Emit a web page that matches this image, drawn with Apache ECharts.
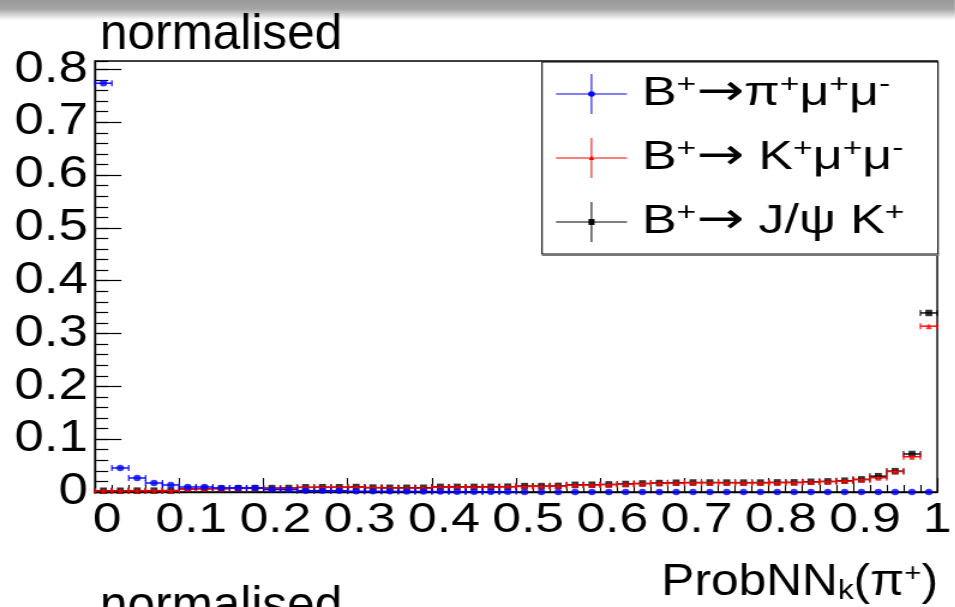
<!DOCTYPE html>
<html>
<head>
<meta charset="utf-8">
<script src="https://cdn.jsdelivr.net/npm/echarts@6/dist/echarts.min.js"></script>
<style>
  html, body { margin: 0; padding: 0; background: #fff; overflow: hidden; width: 955px; height: 607px; }
  /* the figure is laid out narrower and widened horizontally as a whole */
  #chart { width: 795.83px; height: 607px; transform: scaleX(1.2); transform-origin: 0 0; }
</style>
</head>
<body>
<div id="chart"></div>
<script>
// ProbNN_k(pi+) distributions, 50 bins of width 0.02, each normalised to unit area
const binCenters = [
  0.01, 0.03, 0.05, 0.07, 0.09, 0.11, 0.13, 0.15, 0.17, 0.19,
  0.21, 0.23, 0.25, 0.27, 0.29, 0.31, 0.33, 0.35, 0.37, 0.39,
  0.41, 0.43, 0.45, 0.47, 0.49, 0.51, 0.53, 0.55, 0.57, 0.59,
  0.61, 0.63, 0.65, 0.67, 0.69, 0.71, 0.73, 0.75, 0.77, 0.79,
  0.81, 0.83, 0.85, 0.87, 0.89, 0.91, 0.93, 0.95, 0.97, 0.99
];
const binHalfWidth = 0.01;

// B+ -> pi+ mu+ mu-
const piMuMu = [
  0.774, 0.0455, 0.0265, 0.017, 0.0133, 0.0095, 0.0095, 0.0078, 0.0076, 0.0076,
  0.0046, 0.0044, 0.0026, 0.0025, 0.0024, 0.0014, 0.0013, 0.0012, 0.0011, 0.0010,
  0.0008, 0.0007, 0.0007, 0.0006, 0.0006, 0, 0, 0, 0, 0,
  0, 0, 0, 0, 0, 0, 0, 0, 0, 0,
  0, 0, 0, 0, 0, 0, 0, 0, 0, 0
];

// B+ -> K+ mu+ mu-
const kMuMu = [
  0.0020, 0.0020, 0.0022, 0.0022, 0.0024, 0.0055, 0.0060, 0.0062, 0.0068, 0.0070,
  0.0070, 0.0072, 0.0086, 0.0088, 0.0088, 0.0090, 0.0080, 0.0076, 0.0074, 0.0074,
  0.0092, 0.0093, 0.0093, 0.0094, 0.0098, 0.0105, 0.0106, 0.0112, 0.0130, 0.0133,
  0.0139, 0.0148, 0.0158, 0.0165, 0.0170, 0.0175, 0.0176, 0.0174, 0.0173, 0.0174,
  0.0177, 0.0178, 0.0189, 0.0196, 0.0208, 0.0233, 0.0270, 0.0388, 0.0667, 0.314
];

// B+ -> J/psi K+
const jpsiK = [
  0.0024, 0.0024, 0.0026, 0.0026, 0.0028, 0.0058, 0.0063, 0.0066, 0.0072, 0.0074,
  0.0074, 0.0076, 0.0089, 0.0091, 0.0091, 0.0094, 0.0084, 0.0080, 0.0080, 0.0080,
  0.0097, 0.0097, 0.0097, 0.0098, 0.0101, 0.0112, 0.0112, 0.0116, 0.0136, 0.0138,
  0.0144, 0.0152, 0.0162, 0.0170, 0.0176, 0.0180, 0.0180, 0.0179, 0.0178, 0.0179,
  0.0182, 0.0183, 0.0194, 0.0201, 0.0214, 0.0240, 0.0300, 0.0395, 0.0720, 0.339
];

const xTickLabels = ['0', '0.1', '0.2', '0.3', '0.4', '0.5', '0.6', '0.7', '0.8', '0.9', '1'];
const yTickLabels = ['0', '0.1', '0.2', '0.3', '0.4', '0.5', '0.6', '0.7', '0.8'];

const S = 1.2;                       // horizontal widening of the whole figure
const X = v => v / S;                // page x -> layout x
const FONT = '"Liberation Sans", Arial, Helvetica, sans-serif';
const ARROW_FONT = '"DejaVu Sans", sans-serif';
const BLUE = '#0000ff', RED = '#ff0000', BLACK = '#000000';

function points(values) {
  return binCenters.map((c, i) => [c, values[i]]);
}

// Horizontal bin-width bar with end caps, drawn at each bin's value
function errorBars(color) {
  return function (params, api) {
    const x = api.value(0), y = api.value(1);
    if (!(y > 0)) return null;
    const a = api.coord([x - binHalfWidth, y]);
    const b = api.coord([x + binHalfWidth, y]);
    const cap = 3;
    const capStyle = { stroke: color, lineWidth: 1.1 };
    return {
      type: 'group',
      children: [
        { type: 'line', shape: { x1: a[0], y1: a[1], x2: b[0], y2: b[1] }, style: { stroke: color, lineWidth: 1.4 } },
        { type: 'line', shape: { x1: a[0], y1: a[1] - cap, x2: a[0], y2: a[1] + cap }, style: capStyle },
        { type: 'line', shape: { x1: b[0], y1: b[1] - cap, x2: b[0], y2: b[1] + cap }, style: capStyle }
      ]
    };
  };
}

function tickIndex(v) {
  const i = Math.round(v * 10);
  return Math.abs(v * 10 - i) < 1e-6 ? i : -1;
}

const legendRich = {
  b: { fontSize: 40, fontFamily: FONT, color: '#000' },
  a: { fontSize: 44, fontFamily: ARROW_FONT, color: '#000' },
  s: { fontSize: 26, fontFamily: FONT, color: '#000', verticalAlign: 'top' }
};

function legendEntry(y, color, symbol, text) {
  return [
    { type: 'line', shape: { x1: X(556), y1: y, x2: X(627), y2: y }, style: { stroke: color, lineWidth: 1.2 } },
    { type: 'line', shape: { x1: X(591.5), y1: y - 20, x2: X(591.5), y2: y + 20 }, style: { stroke: color, lineWidth: 1 } },
    symbol,
    {
      type: 'text', x: X(642), y: y, scaleX: 1.08,
      style: { text: text, rich: legendRich, verticalAlign: 'middle', align: 'left' }
    }
  ];
}

const chart = echarts.init(document.getElementById('chart'), null, { renderer: 'canvas' });

chart.setOption({
  backgroundColor: '#fff',
  animation: false,
  grid: {
    left: X(95), right: X(955) - X(939), top: 61, bottom: 115,
    show: true, borderColor: '#000', borderWidth: 1.4, backgroundColor: 'transparent'
  },
  xAxis: [{
    type: 'value', min: 0, max: 1, interval: 0.1,
    axisLine: { onZero: false, lineStyle: { color: '#000', width: 1.4 } },
    axisTick: { inside: true, length: 14, lineStyle: { color: '#000', width: 1.1 } },
    minorTick: { show: true, splitNumber: 5, length: 7, lineStyle: { color: '#000', width: 1.1 } },
    splitLine: { show: false },
    axisLabel: {
      margin: 7,
      formatter: function (v) {
        const i = tickIndex(v);
        if (i < 0) return '';
        return i === 10 ? '{e|' + xTickLabels[i] + '}' : '{m|' + xTickLabels[i] + '}';
      },
      rich: {
        m: { fontSize: 43, fontFamily: FONT, color: '#000', padding: [0, 0, 0, 20] },
        e: { fontSize: 43, fontFamily: FONT, color: '#000' }
      }
    }
  }],
  yAxis: [{
    type: 'value', min: 0, max: 0.816, interval: 0.1, position: 'left',
    axisLine: { show: true, lineStyle: { color: '#000', width: 1.4 } },
    axisTick: { inside: true, length: 22, lineStyle: { color: '#000', width: 1.2 } },
    splitLine: { show: false },
    axisLabel: {
      fontSize: 44, fontFamily: FONT, color: '#000', margin: 6,
      showMaxLabel: false,
      formatter: function (v) { const i = tickIndex(v); return i < 0 ? '' : yTickLabels[i]; }
    }
  }, {
    // finer 0.02 subdivisions on the same scale
    type: 'value', min: 0, max: 0.816, interval: 0.02, position: 'left', offset: 0,
    axisLine: { show: false },
    axisTick: { inside: true, length: 11, lineStyle: { color: '#000', width: 1.2 } },
    splitLine: { show: false },
    axisLabel: { show: false }
  }],
  series: [
    { type: 'custom', name: 'jpsiK bars', renderItem: errorBars(BLACK), data: points(jpsiK), z: 2 },
    { type: 'scatter', name: 'B+ -> J/psi K+', data: points(jpsiK), symbol: 'rect', symbolSize: [5.8, 6.5],
      itemStyle: { color: BLACK }, z: 3 },
    { type: 'custom', name: 'kmumu bars', renderItem: errorBars(RED), data: points(kMuMu), z: 4 },
    { type: 'scatter', name: 'B+ -> K+ mu mu', data: points(kMuMu), symbol: 'triangle', symbolSize: [5, 6],
      itemStyle: { color: RED }, z: 5 },
    { type: 'custom', name: 'pimumu bars', renderItem: errorBars(BLUE), data: points(piMuMu), z: 6 },
    { type: 'scatter', name: 'B+ -> pi+ mu mu', data: points(piMuMu), symbol: 'circle', symbolSize: [6.2, 6.5],
      itemStyle: { color: BLUE }, z: 7 }
  ],
  graphic: [
    {
      type: 'rect', left: 0, top: 0, z: 100,
      shape: { width: X(955), height: 20 },
      style: {
        fill: new echarts.graphic.LinearGradient(0, 0, 0, 1, [
          { offset: 0, color: '#9a9a9a' },
          { offset: 0.45, color: '#a5a5a5' },
          { offset: 1, color: '#ffffff' }
        ])
      }
    },
    {
      type: 'text', x: X(100), y: 60, z: 100, scaleX: 0.99 / S,
      style: { text: 'normalised', fontSize: 50, fontFamily: FONT, fill: '#000', verticalAlign: 'bottom' }
    },
    {
      type: 'text', x: X(100), y: 632, z: 100, scaleX: 0.99 / S,
      style: { text: 'normalised', fontSize: 50, fontFamily: FONT, fill: '#000', verticalAlign: 'bottom' }
    },
    {
      // axis title with a lowered subscript and raised superscript
      type: 'text', x: X(938), y: 605, z: 100, scaleX: 0.94,
      style: {
        text: '{t|ProbNN}{k|k}{t|(π}{p|+}{t|)}',
        align: 'right', verticalAlign: 'bottom',
        rich: {
          t: { fontSize: 44, lineHeight: 44, fontFamily: FONT, color: '#000', verticalAlign: 'top' },
          k: { fontSize: 28, lineHeight: 26, fontFamily: FONT, color: '#000', verticalAlign: 'bottom', padding: [30, 0, 0, 0] },
          p: { fontSize: 26, lineHeight: 26, fontFamily: FONT, color: '#000', verticalAlign: 'top' }
        }
      }
    },
    {
      type: 'group', z: 100,
      children: [
        { type: 'rect', shape: { x: X(542), y: 62, width: X(938) - X(542), height: 192 },
          style: { fill: '#fff', stroke: '#000', lineWidth: 1.1 } },
        { type: 'line', shape: { x1: X(542), y1: 255, x2: X(939), y2: 255 }, style: { stroke: '#777', lineWidth: 2 } }
      ].concat(
        legendEntry(94, BLUE, { type: 'circle', shape: { cx: X(591.5), cy: 94, r: 2.8 }, style: { fill: BLUE } },
          '{b|B}{s|+}{a|→}{b|π}{s|+}{b|μ}{s|+}{b|μ}{s|-}'),
        legendEntry(158, RED, { type: 'polygon', shape: { points: [[X(591.5), 155.5], [X(591.5) + 2.3, 160], [X(591.5) - 2.3, 160]] }, style: { fill: RED } },
          '{b|B}{s|+}{a|→}{b| K}{s|+}{b|μ}{s|+}{b|μ}{s|-}'),
        legendEntry(222, BLACK, { type: 'rect', shape: { x: X(591.5) - 2.5, y: 219, width: 5, height: 6 }, style: { fill: BLACK } },
          '{b|B}{s|+}{a|→}{b| J/ψ K}{s|+}')
      )
    }
  ]
});
</script>
</body>
</html>
